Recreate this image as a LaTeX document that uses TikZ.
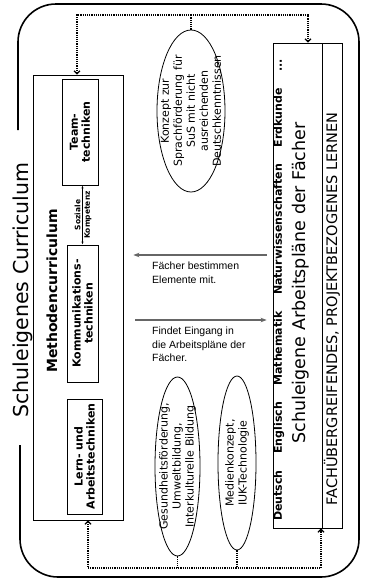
\documentclass[tikz,border=0pt]{standalone}
\usepackage{fontspec}
\setmainfont{DejaVu Sans}
\newfontfamily\labelfont{Liberation Sans}
\usetikzlibrary{shapes}
\usetikzlibrary{positioning}
\usetikzlibrary{arrows.meta}
\tikzset{
    frame/.style = {rectangle, thick, draw=black, inner sep=0pt},
    techbox/.style = {rectangle, thick, draw=black, rotate=90, align=center, inner sep=0pt, font=\bfseries\fontsize{11}{12}\selectfont},
    bubble/.style = {ellipse, thick, draw=black, inner sep=0pt},
    bubbletext/.style = {rotate=90, align=center, inner sep=0pt, font=\fontsize{11}{13}\selectfont},
    uptext/.style = {rotate=90, inner sep=0pt},
    flowlabel/.style = {anchor=north west, align=left, inner sep=0pt, font=\labelfont\fontsize{10.5}{13.5}\selectfont},
    edgeg/.style = {-{Stealth[length=6pt]}, very thick, black!60},
    edgek/.style = {{Latex[length=3pt]}-{Latex[length=3pt]}, thick},
    edged/.style = {very thick, densely dotted},
    edgeda/.style = {{Straight Barb[length=3pt]}-{Straight Barb[length=3pt]}, very thick, densely dotted}
}

\begin{document}
\begin{tikzpicture}[x=1pt, y=-1pt]
  \useasboundingbox (0,0) rectangle (370,584);
  % outer frame, open for the title
  \draw[line width=1.6pt, rounded corners=38pt] (18,130) -- (18,4) -- (359,4) -- (359,577) -- (20,577) -- (20,445);
  \node[uptext, font=\fontsize{20.5}{24}\selectfont] (title) at (23,290) {Schuleigenes Curriculum};

  % Methodencurriculum
  \node[frame, minimum width=90pt, minimum height=445pt] (methoden) at (78,297.5) {};
  \node[uptext, font=\bfseries\fontsize{14}{17}\selectfont] (methodentitle) at (52,291) {Methodencurriculum};
  \node[techbox, minimum width=106pt, minimum height=36pt] (team) at (80,132) {Team-\\techniken};
  \node[techbox, minimum width=137pt, minimum height=31pt] (komm) at (82.5,313.5) {Kommunikations-\\techniken};
  \node[techbox, minimum width=115pt, minimum height=35pt] (lern) at (84.5,456.5) {Lern- und\\Arbeitstechniken};
  \draw[edgek] (komm.east) -- (komm.east |- team.west)
    node[midway, uptext, anchor=south, inner sep=1.5pt, font=\bfseries\fontsize{7.5}{9}\selectfont] (soziale) {Soziale}
    node[midway, uptext, anchor=north, inner sep=1.5pt, font=\bfseries\fontsize{7.5}{9}\selectfont] (kompetenz) {Kompetenz};

  % Konzepte
  \node[bubble, minimum width=68pt, minimum height=162pt] (konzept) at (191,111) {};
  \node[bubbletext] (konzepttext) at (konzept) {Konzept zur\\Sprachförderung für\\SuS mit nicht\\ausreichenden\\Deutschkenntnissen};
  \node[bubble, minimum width=45pt, minimum height=179pt] (gesund) at (177.5,466.5) {};
  \node[bubbletext] (gesundtext) at (gesund) {Gesundheitsförderung,\\Umweltbildung,\\Interkulturelle Bildung};
  \node[bubble, minimum width=38pt, minimum height=174pt] (medien) at (237,463) {};
  \node[bubbletext] (medientext) at (medien) {Medienkonzept,\\IUK-Technologie};

  % Arbeitsplaene
  \node[frame, minimum width=49pt, minimum height=485pt] (faecher) at (297.5,285.5) {};
  \node[frame, minimum width=20pt, minimum height=485pt, right=0pt of faecher] (strip) {};
  \node[uptext, font=\bfseries\fontsize{11}{13}\selectfont] (faecherlist) at (279,290)
    {Deutsch\hspace{1.5em}Englisch\hspace{1.5em}Mathematik\hspace{1.5em}Naturwissenschaften\hspace{1.5em}Erdkunde\hspace{1.5em}...};
  \node[uptext, font=\fontsize{17.5}{20}\selectfont] (faechertitle) at (301,283) {Schuleigene Arbeitspläne der Fächer};
  \node[uptext, font=\fontsize{14.5}{17}\selectfont] (striptext) at (332,309) {FACHÜBERGREIFENDES, PROJEKTBEZOGENES LERNEN};

  % dotted links
  \coordinate (t1) at (77,15);
  \coordinate (t2) at (308,15);
  \coordinate (b1) at (88,568);
  \coordinate (b2) at (321,568);
  \draw[edgeda] (methoden.north -| t1) -- (t1) -- (t2) -- (faecher.north -| t2);
  \draw[edgeda] (methoden.south -| b1) -- (b1) -- (b2) -- (faecher.south -| b2);
  \draw[edged] (konzept.north) -- (konzept.north |- t1);
  \draw[edged] (gesund.south) -- (gesund.south |- b1);
  \draw[edged] (medien.south) -- (medien.south |- b1);

  % Faecher <-> Methoden
  \coordinate (a1) at (200,255);
  \coordinate (a2) at (200,320);
  \draw[edgeg, shorten <=6pt, shorten >=10pt] (faecher.west |- a1) -- (methoden.east |- a1);
  \node[flowlabel] (bestimmen) at (152,262) {Fächer bestimmen\\Elemente mit.};
  \draw[edgeg, shorten <=12pt, shorten >=6pt] (methoden.east |- a2) -- (faecher.west |- a2);
  \node[flowlabel] (eingang) at (152,327) {Findet Eingang in\\die Arbeitspläne der\\Fächer.};
\end{tikzpicture}
\end{document}
